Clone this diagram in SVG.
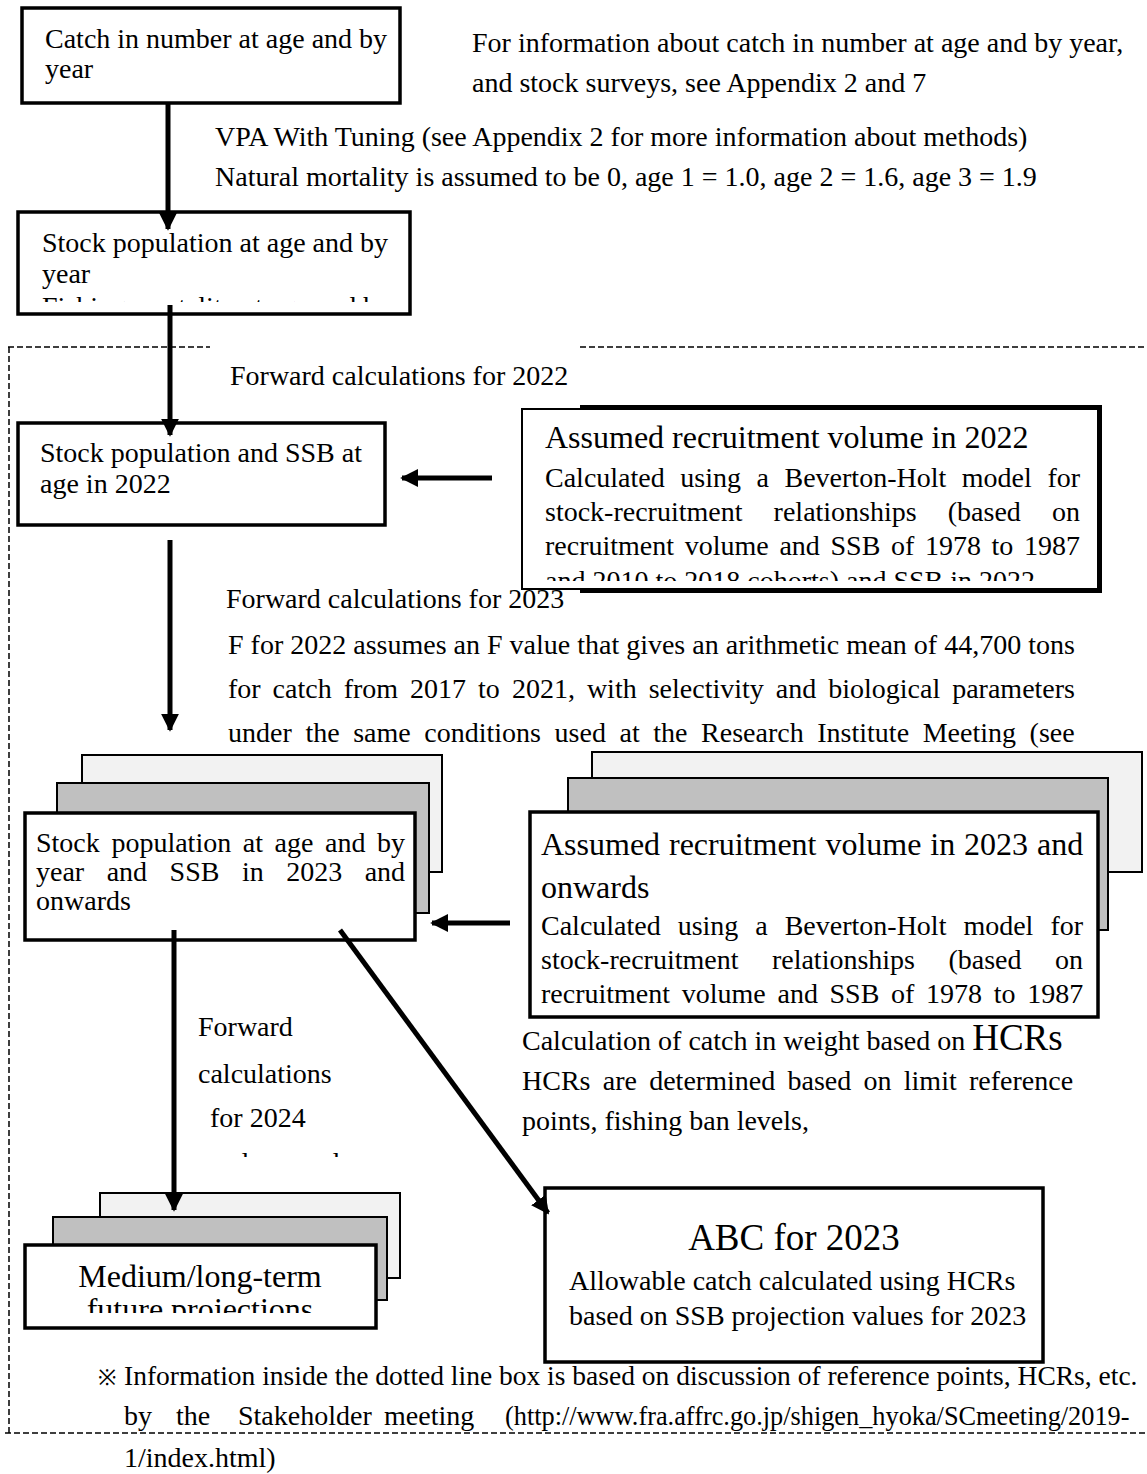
<svg xmlns="http://www.w3.org/2000/svg" width="1147" height="1474" viewBox="0 0 1147 1474">
<style>
text{font-family:"Liberation Serif","Times New Roman",serif;fill:#000}
.t24{font-size:28px}
.t28{font-size:32px}
.box{fill:#fff;stroke:#000;stroke-width:3.5}
.light{fill:#f2f2f2;stroke:#000;stroke-width:2}
.gray{fill:#c0c0c0;stroke:#000;stroke-width:2}
.arr{stroke:#000;stroke-width:5;fill:none;marker-end:url(#ah)}
.dash{stroke:#000;stroke-width:1.5;fill:none;stroke-dasharray:6 3}
</style>
<defs>
<marker id="ah" viewBox="0 0 10 10" refX="9" refY="5" markerUnits="userSpaceOnUse" markerWidth="18" markerHeight="18" orient="auto">
<path d="M0,0 L10,5 L0,10 z" fill="#000"/>
</marker>
<clipPath id="c2"><rect x="18" y="212" width="392" height="90"/></clipPath>
<clipPath id="c3"><rect x="522" y="408" width="578" height="173"/></clipPath>
<clipPath id="c4"><rect x="190" y="1130" width="200" height="27"/></clipPath>
<clipPath id="c5"><rect x="25" y="1245" width="351" height="68"/></clipPath>
</defs>

<g id="dotted-region">
<path class="dash" d="M8,347 H210 M580,347 H1147 M9,347 V1433 M5,1433 H1147"/>
</g>

<g id="node-catch">
<rect class="box" x="22" y="8" width="378" height="95"/>
<text class="t24" x="45" y="48">Catch in number at age and by</text>
<text class="t24" x="45" y="78">year</text>
</g>

<g id="note-info">
<text class="t24" x="472" y="52">For information about catch in number at age and by year,</text>
<text class="t24" x="472" y="92">and stock surveys, see Appendix 2 and 7</text>
</g>

<g id="note-vpa">
<text class="t24" x="215" y="146">VPA With Tuning (see Appendix 2 for more information about methods)</text>
<text class="t24" x="215" y="186">Natural mortality is assumed to be 0, age 1 = 1.0, age 2 = 1.6, age 3 = 1.9</text>
</g>

<g id="node-stock">
<rect class="box" x="18" y="212" width="392" height="102"/>
<text class="t24" x="42" y="252">Stock population at age and by</text>
<text class="t24" x="42" y="283">year</text>
<text class="t24" x="42" y="316" clip-path="url(#c2)">Fishing mortality at age and by</text>
</g>

<g id="note-fwd2022">
<text class="t24" x="230" y="385">Forward calculations for 2022</text>
</g>

<g id="node-stock2022">
<rect class="box" x="18" y="423" width="367" height="102"/>
<text class="t24" x="40" y="462">Stock population and SSB at</text>
<text class="t24" x="40" y="493">age in 2022</text>
</g>

<g id="node-rec2022">
<rect x="580" y="405" width="522" height="188" fill="#000"/>
<rect x="522" y="409" width="576" height="180" fill="#fff" stroke="#000" stroke-width="2"/>
<text class="t28" x="545" y="448">Assumed recruitment volume in 2022</text>
<g class="t24">
<text y="487"><tspan x="545">Calculated</tspan> <tspan x="680.3">using</tspan> <tspan x="756.5">a</tspan> <tspan x="784.5">Beverton-Holt</tspan> <tspan x="961.8">model</tspan> <tspan x="1047.4">for</tspan></text>
<text y="521"><tspan x="545">stock-recruitment</tspan> <tspan x="773.6">relationships</tspan> <tspan x="947.8">(based</tspan> <tspan x="1052">on</tspan></text>
<text y="555"><tspan x="545">recruitment</tspan> <tspan x="684.8">volume</tspan> <tspan x="779.4">and</tspan> <tspan x="830.5">SSB</tspan> <tspan x="891">of</tspan> <tspan x="925">1978</tspan> <tspan x="991.6">to</tspan> <tspan x="1024">1987</tspan></text>
<text x="545" y="590" clip-path="url(#c3)">and 2010 to 2018 cohorts) and SSB in 2022</text>
</g>
</g>

<g id="note-fwd2023">
<text class="t24" x="226" y="608">Forward calculations for 2023</text>
<text class="t24" x="228" y="654">F for 2022 assumes an F value that gives an arithmetic mean of 44,700 tons</text>
<text class="t24" y="698"><tspan x="228">for</tspan> <tspan x="272.6">catch</tspan> <tspan x="343.7">from</tspan> <tspan x="410.1">2017</tspan> <tspan x="478.1">to</tspan> <tspan x="511.9">2021,</tspan> <tspan x="586.9">with</tspan> <tspan x="648.7">selectivity</tspan> <tspan x="775.8">and</tspan> <tspan x="828.2">biological</tspan> <tspan x="952.2">parameters</tspan></text>
<text class="t24" y="742"><tspan x="228">under</tspan> <tspan x="305.4">the</tspan> <tspan x="353.2">same</tspan> <tspan x="424.3">conditions</tspan> <tspan x="554.6">used</tspan> <tspan x="619.5">at</tspan> <tspan x="653.3">the</tspan> <tspan x="701.1">Research</tspan> <tspan x="817.3">Institute</tspan> <tspan x="922.7">Meeting</tspan> <tspan x="1029.6">(see</tspan></text>
</g>

<g id="node-stock2023">
<rect class="light" x="82" y="755" width="360" height="117"/>
<rect class="gray" x="57" y="783" width="372" height="130"/>
<rect class="box" x="25" y="813" width="390" height="127"/>
<text class="t24" y="852"><tspan x="36">Stock</tspan> <tspan x="111.4">population</tspan> <tspan x="242.8">at</tspan> <tspan x="274.6">age</tspan> <tspan x="325.1">and</tspan> <tspan x="377.1">by</tspan></text>
<text class="t24" y="881"><tspan x="36">year</tspan> <tspan x="106.7">and</tspan> <tspan x="169.6">SSB</tspan> <tspan x="241.9">in</tspan> <tspan x="286.2">2023</tspan> <tspan x="364.7">and</tspan></text>
<text class="t24" x="36" y="910">onwards</text>
</g>

<g id="node-rec2023">
<rect class="light" x="592" y="752" width="550" height="120"/>
<rect class="gray" x="568" y="778" width="540" height="152"/>
<rect class="box" x="530" y="812" width="568" height="205"/>
<text class="t28" x="541" y="855" word-spacing="0.9">Assumed recruitment volume in 2023 and</text>
<text class="t28" x="541" y="898">onwards</text>
<text class="t24" y="935"><tspan x="541">Calculated</tspan> <tspan x="677.7">using</tspan> <tspan x="755.3">a</tspan> <tspan x="784.7">Beverton-Holt</tspan> <tspan x="963.4">model</tspan> <tspan x="1050.4">for</tspan></text>
<text class="t24" y="969"><tspan x="541">stock-recruitment</tspan> <tspan x="771.9">relationships</tspan> <tspan x="948.4">(based</tspan> <tspan x="1055">on</tspan></text>
<text class="t24" y="1003"><tspan x="541">recruitment</tspan> <tspan x="681.8">volume</tspan> <tspan x="777.5">and</tspan> <tspan x="829.5">SSB</tspan> <tspan x="891">of</tspan> <tspan x="926">1978</tspan> <tspan x="993.7">to</tspan> <tspan x="1027.2">1987</tspan></text>
</g>

<g id="note-hcr">
<text class="t24" x="522" y="1050">Calculation of catch in weight based on <tspan style="font-size:37px">HCRs</tspan></text>
<text class="t24" y="1090"><tspan x="522">HCRs</tspan> <tspan x="602.8">are</tspan> <tspan x="649.2">determined</tspan> <tspan x="787.5">based</tspan> <tspan x="863.5">on</tspan> <tspan x="903.8">limit</tspan> <tspan x="969">reference</tspan></text>
<text class="t24" x="522" y="1130">points, fishing ban levels,</text>
</g>

<g id="note-fwd2024">
<text class="t24" x="198" y="1036">Forward</text>
<text class="t24" x="198" y="1083">calculations</text>
<text class="t24" x="210" y="1127">for 2024</text>
<text class="t24" x="208" y="1172" clip-path="url(#c4)">and onwards</text>
</g>

<g id="node-medium">
<rect class="light" x="100" y="1193" width="300" height="85"/>
<rect class="gray" x="53" y="1217" width="334" height="83"/>
<rect class="box" x="25" y="1245" width="351" height="83"/>
<text class="t28" x="200" y="1287" text-anchor="middle">Medium/long-term</text>
<text class="t28" x="200" y="1320" text-anchor="middle" clip-path="url(#c5)">future projections</text>
</g>

<g id="node-abc">
<rect class="box" x="545" y="1188" width="498" height="174"/>
<text x="794" y="1250" text-anchor="middle" style="font-size:37px">ABC for 2023</text>
<text class="t24" x="569" y="1290">Allowable catch calculated using HCRs</text>
<text class="t24" x="569" y="1325">based on SSB projection values for 2023</text>
</g>

<g id="footnote">
<text x="98" y="1385" style="font-size:22px">※</text>
<text x="124" y="1385" style="font-size:27.5px">Information inside the dotted line box is based on discussion of reference points, HCRs, etc.</text>
<text class="t24" y="1425"><tspan x="124">by</tspan> <tspan x="176">the</tspan> <tspan x="238">Stakeholder</tspan> <tspan x="384">meeting</tspan></text>
<text x="505" y="1425" style="font-size:26.3px">(http://www.fra.affrc.go.jp/shigen_hyoka/SCmeeting/2019-</text>
<text class="t24" x="124" y="1467">1/index.html)</text>
</g>

<g id="connectors">
<line class="arr" x1="168" y1="103" x2="168" y2="229"/>
<line class="arr" x1="170" y1="305" x2="170" y2="435"/>
<line class="arr" x1="170" y1="540" x2="170" y2="730"/>
<line class="arr" x1="492" y1="478" x2="402" y2="478"/>
<line class="arr" x1="510" y1="923" x2="432" y2="923"/>
<line class="arr" x1="174" y1="930" x2="174" y2="1210"/>
<line class="arr" x1="340" y1="930" x2="548" y2="1213"/>
</g>
</svg>
